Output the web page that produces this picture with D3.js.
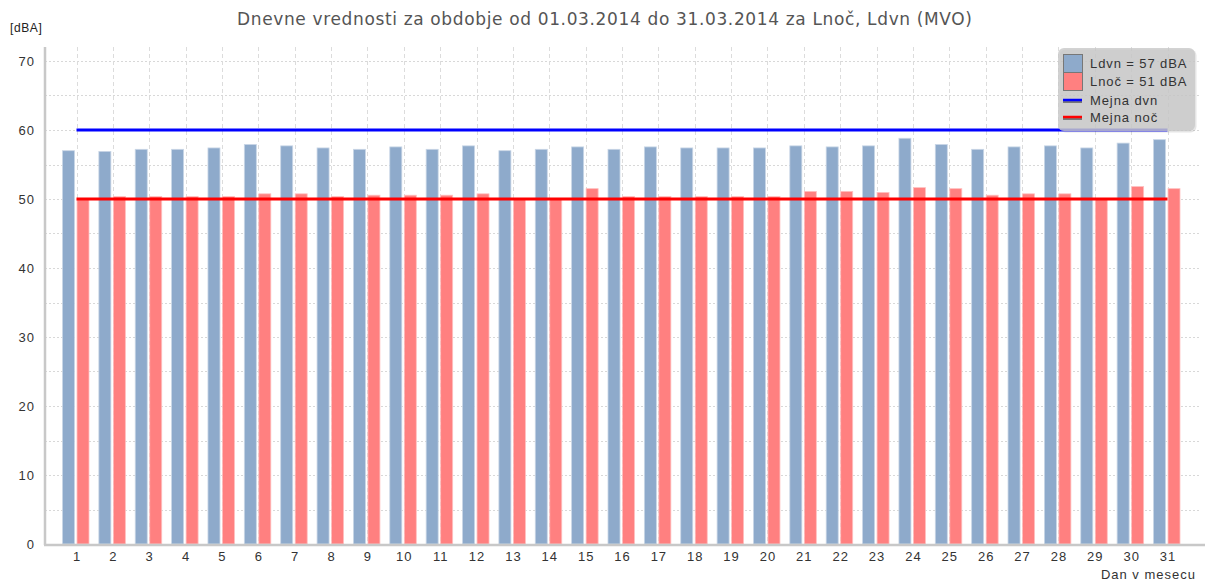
<!DOCTYPE html>
<html>
<head>
<meta charset="utf-8">
<script src="https://cdn.jsdelivr.net/npm/d3@7/dist/d3.min.js"></script>
<style>
  html, body { margin: 0; padding: 0; background: #fff; }
  svg { display: block; }
</style>
</head>
<body>
<svg id="chart" width="1205" height="583"></svg>
<script>
// Daily noise levels for March 2014
const days = d3.range(1, 32);
const ldvn = [57.0, 56.9, 57.2, 57.2, 57.4, 57.9, 57.7, 57.4, 57.2, 57.55,
              57.2, 57.7, 57.0, 57.2, 57.55, 57.2, 57.55, 57.4, 57.4, 57.4,
              57.7, 57.55, 57.7, 58.8, 57.9, 57.2, 57.55, 57.7, 57.4, 58.1, 58.6];
const lnoc = [49.9, 50.35, 50.35, 50.35, 50.35, 50.75, 50.75, 50.35, 50.55, 50.55,
              50.55, 50.75, 50.0, 50.0, 51.5, 50.35, 50.35, 50.35, 50.35, 50.35,
              51.1, 51.1, 50.95, 51.65, 51.5, 50.55, 50.75, 50.75, 50.0, 51.8, 51.5];
const limitDay = 60;
const limitNight = 50;
const yTicks = [0, 10, 20, 30, 40, 50, 60, 70];
const gridValues = d3.range(0, 75, 5);
const legendLabels = ["Ldvn = 57 dBA", "Lnoč = 51 dBA", "Mejna dvn", "Mejna noč"];

const svg = d3.select("#chart");
const plot = { left: 45, right: 1200, top: 47, bottom: 544 };
const labelFont = "Liberation Sans, Arial, sans-serif";

const x = d3.scalePoint().domain(days).range([76.5, 1167.5]);
const y = d3.scaleLinear().domain([0, 70]).range([plot.bottom, 61]);

// Title and unit label
svg.append("text")
  .attr("x", 237).attr("y", 25)
  .attr("textLength", 735).attr("lengthAdjust", "spacing")
  .attr("font-family", "DejaVu Sans, Verdana, sans-serif")
  .attr("font-size", 17)
  .attr("fill", "#555")
  .text("Dnevne vrednosti za obdobje od 01.03.2014 do 31.03.2014 za Lnoč, Ldvn (MVO)");

svg.append("text")
  .attr("x", 10).attr("y", 32)
  .attr("font-family", labelFont)
  .attr("font-size", 12).attr("letter-spacing", 0.6)
  .attr("fill", "#222")
  .text("[dBA]");

// Grid
const grid = svg.append("g");
grid.selectAll("line.h").data(gridValues.filter(v => v > 0)).join("line")
  .attr("x1", plot.left).attr("x2", plot.right)
  .attr("y1", d => Math.round(y(d)) + 0.5).attr("y2", d => Math.round(y(d)) + 0.5)
  .attr("stroke", "#d8d8d8").attr("stroke-dasharray", "2,2");
grid.selectAll("line.v").data(days).join("line")
  .attr("x1", d => Math.round(x(d)) + 0.5).attr("x2", d => Math.round(x(d)) + 0.5)
  .attr("y1", plot.top).attr("y2", plot.bottom)
  .attr("stroke", "#dcdcdc").attr("stroke-dasharray", "4,3");

// Bars
const bars = svg.append("g");
bars.selectAll("rect.ldvn").data(days).join("rect")
  .attr("x", (d, i) => x(d) - 14)
  .attr("width", 12)
  .attr("y", (d, i) => y(ldvn[i]))
  .attr("height", (d, i) => y(0) - y(ldvn[i]))
  .attr("fill", "#8eaacb")
  .attr("stroke", "#c9d6e6").attr("stroke-width", 0.8);
bars.selectAll("rect.lnoc").data(days).join("rect")
  .attr("x", (d, i) => x(d) + 0.5)
  .attr("width", 12)
  .attr("y", (d, i) => y(lnoc[i]))
  .attr("height", (d, i) => y(0) - y(lnoc[i]))
  .attr("fill", "#ff8080")
  .attr("stroke", "#ffc0c0").attr("stroke-width", 0.8);

// Limit lines
svg.append("line")
  .attr("x1", x(1)).attr("x2", x(31))
  .attr("y1", y(limitDay)).attr("y2", y(limitDay))
  .attr("stroke", "#0000ff").attr("stroke-width", 3);
svg.append("line")
  .attr("x1", x(1)).attr("x2", x(31))
  .attr("y1", y(limitNight)).attr("y2", y(limitNight))
  .attr("stroke", "#ff0000").attr("stroke-width", 3);

// Axes lines
svg.append("line")
  .attr("x1", plot.left).attr("x2", plot.left)
  .attr("y1", plot.top).attr("y2", plot.bottom + 1)
  .attr("stroke", "#c8c8c8").attr("stroke-width", 2.5);
svg.append("line")
  .attr("x1", plot.left - 1).attr("x2", 1205)
  .attr("y1", plot.bottom + 1).attr("y2", plot.bottom + 1)
  .attr("stroke", "#c8c8c8").attr("stroke-width", 2.5);

// Axis labels
const yAxis = d3.axisLeft(y).tickValues(yTicks).tickSize(0).tickPadding(10);
const gy = svg.append("g").attr("transform", `translate(${plot.left},0)`).call(yAxis);
gy.select(".domain").remove();
gy.selectAll("text")
  .attr("font-family", labelFont)
  .attr("font-size", 13).attr("letter-spacing", 1).attr("fill", "#333");

const xAxis = d3.axisBottom(x).tickSize(0).tickPadding(7);
const gx = svg.append("g").attr("transform", `translate(0,${plot.bottom + 1})`).call(xAxis);
gx.select(".domain").remove();
gx.selectAll("text")
  .attr("font-family", labelFont)
  .attr("font-size", 13).attr("letter-spacing", 1).attr("fill", "#333");

svg.append("text")
  .attr("x", 1196).attr("y", 579)
  .attr("text-anchor", "end")
  .attr("font-family", labelFont)
  .attr("font-size", 13).attr("letter-spacing", 1).attr("fill", "#333")
  .text("Dan v mesecu");

// Legend
const lg = svg.append("g").attr("transform", "translate(1058,48)");
lg.append("rect")
  .attr("x", 1.5).attr("y", 1.5).attr("width", 137).attr("height", 83).attr("rx", 6)
  .attr("fill", "#999").attr("opacity", 0.25);
lg.append("rect")
  .attr("width", 137).attr("height", 83).attr("rx", 6)
  .attr("fill", "#c8c8c8").attr("opacity", 0.8);
const swatchColors = ["#8eaacb", "#ff8080"];
lg.selectAll("rect.sw").data(swatchColors).join("rect")
  .attr("x", 5.5).attr("y", (d, i) => 6.5 + i * 18)
  .attr("width", 19).attr("height", 18)
  .attr("fill", d => d).attr("stroke", "#777");
const lineColors = ["#0000ff", "#ff0000"];
lineColors.forEach((c, i) => {
  const yy = 52 + i * 17;
  lg.append("line").attr("x1", 5).attr("x2", 24).attr("y1", yy + 2).attr("y2", yy + 2)
    .attr("stroke", "#777").attr("stroke-width", 2);
  lg.append("line").attr("x1", 5).attr("x2", 24).attr("y1", yy).attr("y2", yy)
    .attr("stroke", c).attr("stroke-width", 2.5);
});
lg.selectAll("text").data(legendLabels).join("text")
  .attr("x", 32)
  .attr("y", (d, i) => [20, 38, 57, 74][i])
  .attr("font-family", labelFont)
  .attr("font-size", 13).attr("letter-spacing", 0.9).attr("fill", "#333")
  .text(d => d);
</script>
</body>
</html>
